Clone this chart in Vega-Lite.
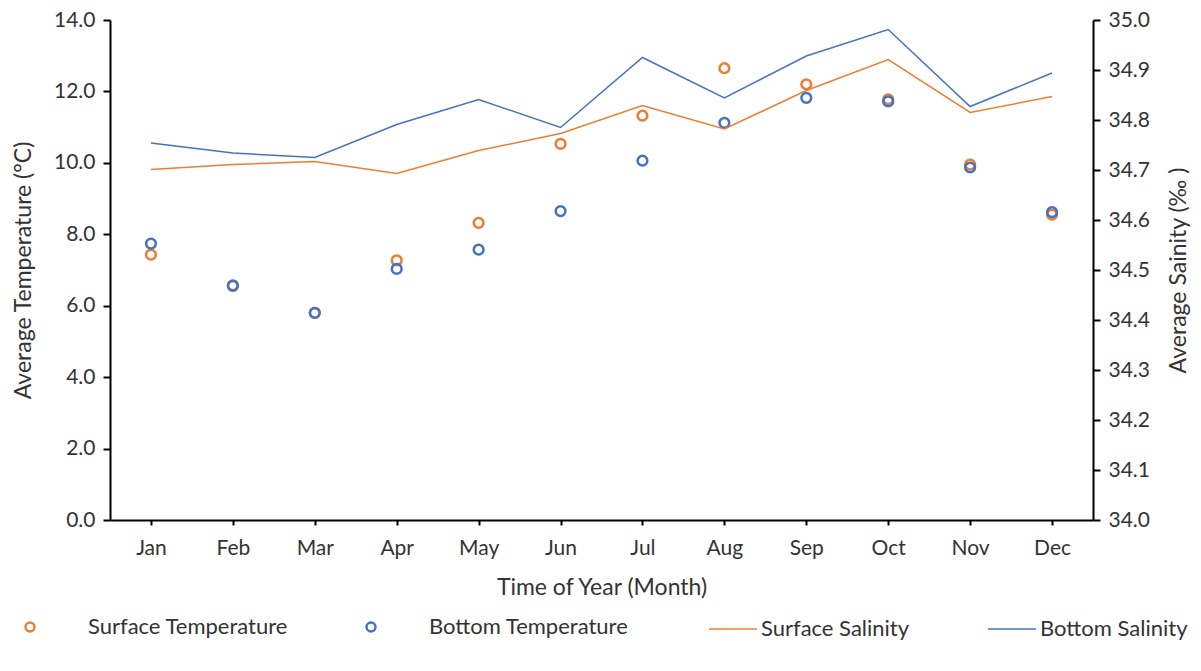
{
  "$schema": "https://vega.github.io/schema/vega-lite/v6.json",
  "width": 983,
  "height": 500,
  "autosize": {"type": "none"},
  "padding": {"left": 110, "top": 20, "right": 108, "bottom": 151},
  "background": "white",
  "datasets": {
    "temps": [
      {"month": "Jan", "series": "Surface Temperature", "value": 7.43},
      {"month": "Feb", "series": "Surface Temperature", "value": 6.55},
      {"month": "Mar", "series": "Surface Temperature", "value": 5.8},
      {"month": "Apr", "series": "Surface Temperature", "value": 7.27},
      {"month": "May", "series": "Surface Temperature", "value": 8.32},
      {"month": "Jun", "series": "Surface Temperature", "value": 10.53},
      {"month": "Jul", "series": "Surface Temperature", "value": 11.32},
      {"month": "Aug", "series": "Surface Temperature", "value": 12.65},
      {"month": "Sep", "series": "Surface Temperature", "value": 12.2},
      {"month": "Oct", "series": "Surface Temperature", "value": 11.78},
      {"month": "Nov", "series": "Surface Temperature", "value": 9.95},
      {"month": "Dec", "series": "Surface Temperature", "value": 8.55},
      {"month": "Jan", "series": "Bottom Temperature", "value": 7.74},
      {"month": "Feb", "series": "Bottom Temperature", "value": 6.57},
      {"month": "Mar", "series": "Bottom Temperature", "value": 5.8},
      {"month": "Apr", "series": "Bottom Temperature", "value": 7.03},
      {"month": "May", "series": "Bottom Temperature", "value": 7.57},
      {"month": "Jun", "series": "Bottom Temperature", "value": 8.65},
      {"month": "Jul", "series": "Bottom Temperature", "value": 10.06},
      {"month": "Aug", "series": "Bottom Temperature", "value": 11.12},
      {"month": "Sep", "series": "Bottom Temperature", "value": 11.82},
      {"month": "Oct", "series": "Bottom Temperature", "value": 11.72},
      {"month": "Nov", "series": "Bottom Temperature", "value": 9.87},
      {"month": "Dec", "series": "Bottom Temperature", "value": 8.62}
    ],
    "sal": [
      {"month": "Jan", "series": "Surface Salinity", "value": 34.701},
      {"month": "Feb", "series": "Surface Salinity", "value": 34.711},
      {"month": "Mar", "series": "Surface Salinity", "value": 34.717},
      {"month": "Apr", "series": "Surface Salinity", "value": 34.693},
      {"month": "May", "series": "Surface Salinity", "value": 34.739},
      {"month": "Jun", "series": "Surface Salinity", "value": 34.773},
      {"month": "Jul", "series": "Surface Salinity", "value": 34.829},
      {"month": "Aug", "series": "Surface Salinity", "value": 34.782},
      {"month": "Sep", "series": "Surface Salinity", "value": 34.859},
      {"month": "Oct", "series": "Surface Salinity", "value": 34.921},
      {"month": "Nov", "series": "Surface Salinity", "value": 34.815},
      {"month": "Dec", "series": "Surface Salinity", "value": 34.847},
      {"month": "Jan", "series": "Bottom Salinity", "value": 34.754},
      {"month": "Feb", "series": "Bottom Salinity", "value": 34.734},
      {"month": "Mar", "series": "Bottom Salinity", "value": 34.725},
      {"month": "Apr", "series": "Bottom Salinity", "value": 34.791},
      {"month": "May", "series": "Bottom Salinity", "value": 34.841},
      {"month": "Jun", "series": "Bottom Salinity", "value": 34.785},
      {"month": "Jul", "series": "Bottom Salinity", "value": 34.925},
      {"month": "Aug", "series": "Bottom Salinity", "value": 34.844},
      {"month": "Sep", "series": "Bottom Salinity", "value": 34.928},
      {"month": "Oct", "series": "Bottom Salinity", "value": 34.981},
      {"month": "Nov", "series": "Bottom Salinity", "value": 34.827},
      {"month": "Dec", "series": "Bottom Salinity", "value": 34.894}
    ]
  },
  "encoding": {
    "x": {
      "field": "month",
      "type": "ordinal",
      "sort": ["Jan","Feb","Mar","Apr","May","Jun","Jul","Aug","Sep","Oct","Nov","Dec"],
      "scale": {"type": "point", "padding": 0.5},
      "axis": {
        "title": "Time of Year (Month)",
        "labelAngle": 0,
        "tickSize": 5,
        "tickWidth": 2,
        "labelPadding": 12,
        "titlePadding": 18
      }
    }
  },
  "layer": [
    {
      "data": {"name": "temps"},
      "mark": {"type": "point", "filled": false, "strokeWidth": 2.5, "size": 95, "shape": "circle", "opacity": 1},
      "encoding": {
        "y": {
          "field": "value",
          "type": "quantitative",
          "scale": {"domain": [0, 14], "nice": false, "zero": false},
          "axis": {
            "title": "Average Temperature (°C)",
            "orient": "left",
            "values": [0,2,4,6,8,10,12,14],
            "format": ".1f",
            "labelPadding": 8,
            "titlePadding": 18
          }
        },
        "color": {
          "field": "series",
          "type": "nominal",
          "scale": {
            "domain": ["Surface Temperature","Bottom Temperature"],
            "range": ["#ED7D31","#4472C4"]
          },
          "legend": {
            "title": null,
            "orient": "none",
            "legendX": -91,
            "legendY": 596,
            "direction": "horizontal",
            "columns": 2,
            "columnPadding": 71,
            "symbolType": "circle",
            "symbolSize": 80,
            "symbolStrokeWidth": 2.5,
            "labelOffset": 47
          }
        }
      }
    },
    {
      "data": {"name": "sal"},
      "mark": {"type": "line", "strokeWidth": 1.5},
      "encoding": {
        "y": {
          "field": "value",
          "type": "quantitative",
          "scale": {"domain": [34, 35], "nice": false, "zero": false},
          "axis": {
            "title": "Average Sainity (‰ )",
            "orient": "right",
            "values": [34,34.1,34.2,34.3,34.4,34.5,34.6,34.7,34.8,34.9,35],
            "format": ".1f",
            "labelPadding": 8,
            "titlePadding": 18,
            "titleAngle": -90,
            "titleBaseline": "top"
          }
        },
        "stroke": {
          "field": "series",
          "type": "nominal",
          "scale": {
            "domain": ["Surface Salinity","Bottom Salinity"],
            "range": ["#ED7D31","#4472C4"]
          },
          "legend": {
            "title": null,
            "orient": "none",
            "legendX": 598,
            "legendY": 584,
            "direction": "horizontal",
            "columns": 2,
            "columnPadding": 75,
            "symbolType": "stroke",
            "symbolSize": 2304,
            "symbolStrokeWidth": 1.5,
            "labelOffset": 3
          }
        }
      }
    }
  ],
  "resolve": {"scale": {"y": "independent"}},
  "config": {
    "view": {"stroke": null},
    "font": "Lato",
    "axis": {
      "grid": false,
      "domainColor": "#000000",
      "domainWidth": 2,
      "tickColor": "#000000",
      "tickWidth": 2,
      "tickSize": 7,
      "labelFont": "Lato",
      "labelFontSize": 21,
      "labelColor": "#333333",
      "titleFont": "Lato",
      "titleFontSize": 23,
      "titleFontWeight": "normal",
      "titleColor": "#333333"
    },
    "legend": {
      "labelFont": "Lato",
      "labelFontSize": 22,
      "labelLimit": 0,
      "labelColor": "#333333"
    }
  }
}
